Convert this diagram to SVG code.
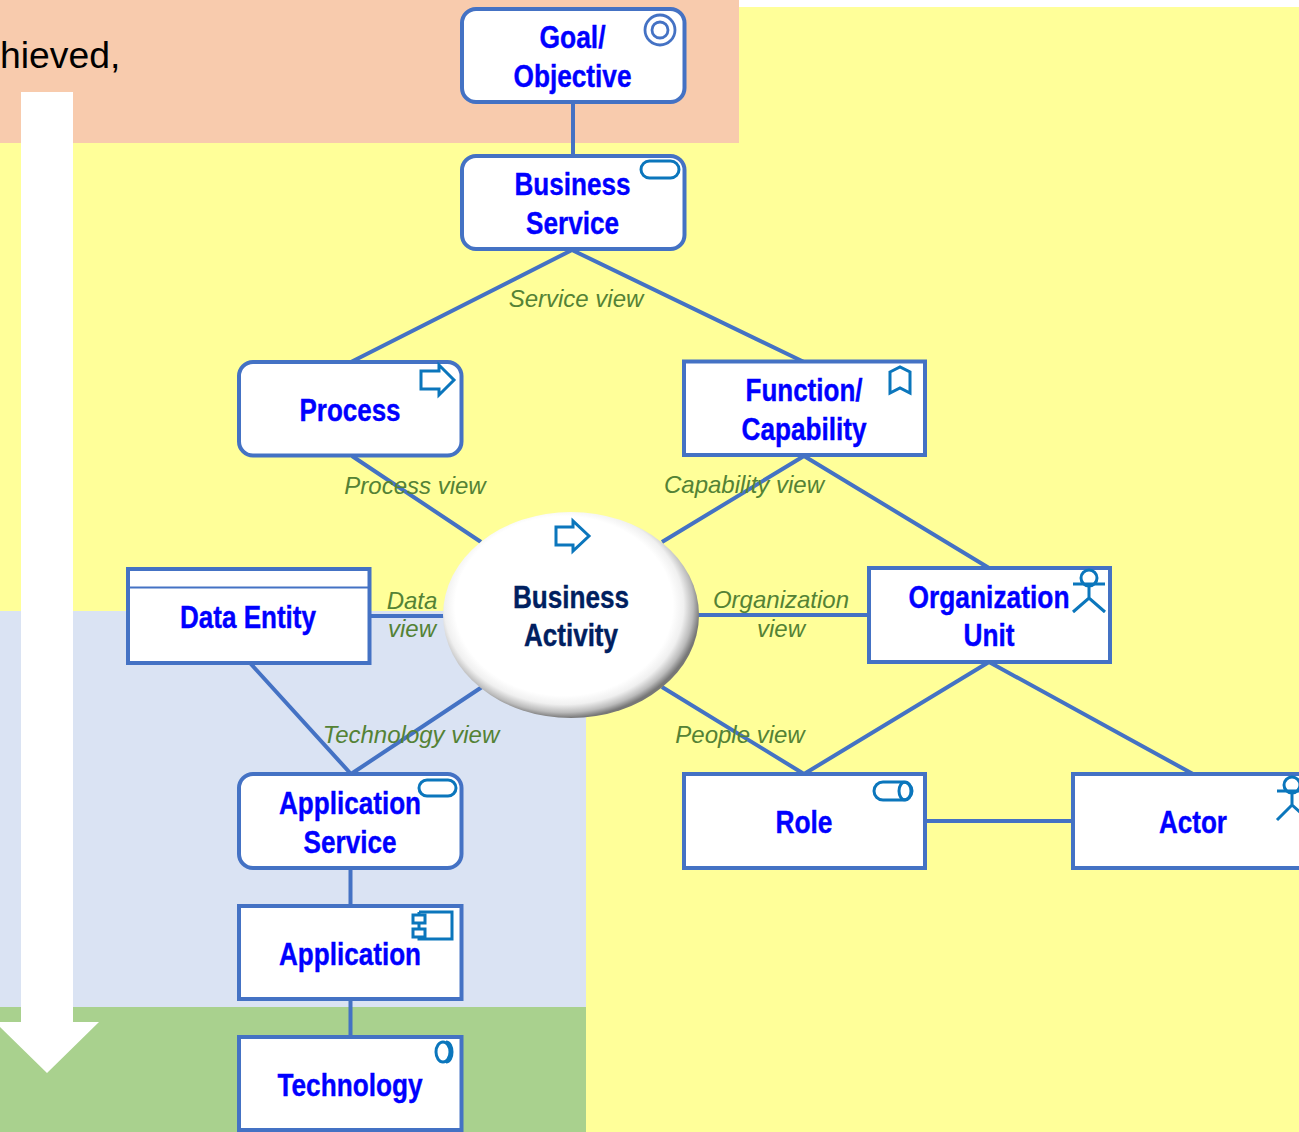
<svg xmlns="http://www.w3.org/2000/svg" width="1299" height="1132" viewBox="0 0 1299 1132">
<style>
.box{fill:#fff;stroke:#4472c4;stroke-width:4}
.c{fill:none;stroke:#4472c4;stroke-width:4}
.i{fill:none;stroke:#0b76bc;stroke-width:3}
.t{font-family:"Liberation Sans",Arial,sans-serif;font-weight:700;font-size:32px;fill:#0000ff;stroke:#0000ff;stroke-width:.4;text-anchor:middle}
.t.d{fill:#002060;stroke:#002060}
.l{font-family:"Liberation Sans",Arial,sans-serif;font-style:italic;font-size:24px;fill:#548235;text-anchor:middle}
</style>
<defs>
<radialGradient id="sph" gradientUnits="userSpaceOnUse" cx="0" cy="0" r="1" gradientTransform="translate(564 606) scale(136 112)">
<stop offset="0.8" stop-color="#fff"/><stop offset="0.88" stop-color="#f0f0f0"/><stop offset="0.95" stop-color="#bbb"/><stop offset="1" stop-color="#777"/>
</radialGradient>
</defs>
<g id="background">
<rect x="739" y="7" width="560" height="1125" fill="#ffff99"/>
<rect x="0" y="143" width="739" height="468" fill="#ffff99"/>
<rect x="586" y="611" width="153" height="521" fill="#ffff99"/>
<rect x="0" y="0" width="739" height="143" fill="#f8cbad"/>
<rect x="0" y="611" width="586" height="396" fill="#dae3f3"/>
<rect x="0" y="1007" width="586" height="125" fill="#a9d18e"/>
<text x="0" y="68" font-family="Liberation Sans,Arial,sans-serif" font-size="37.3" fill="#000">hieved,</text>
<polygon points="21,92 73,92 73,1022 99,1022 47,1073 -5,1022 21,1022" fill="#fff"/>
</g>
<g id="connectors">
<path class="c" d="M573 102V156M572 250L351 362M572 250L804 362M352 456L481 542M804 456L662 542M804 456L989 568M370 616H444M698 615H869M250 663L351 774M482 687L351 774M662 687L804 774M989 662L804 774M989 662L1193 774M926 821H1073M350.500 868V906M350.500 1000V1037"/>
</g>
<g id="goal"><rect class="box" x="462" y="9" width="222.500" height="93" rx="14"/>
<circle cx="660" cy="30" r="15" fill="none" stroke="#4472c4" stroke-width="2.800"/><circle cx="660" cy="30" r="8" fill="none" stroke="#4472c4" stroke-width="2.800"/>
<text class="t" x="572.500" y="48" textLength="66" lengthAdjust="spacingAndGlyphs">Goal/</text><text class="t" x="572.500" y="87" textLength="118" lengthAdjust="spacingAndGlyphs">Objective</text></g>
<g id="business-service"><rect class="box" x="462" y="156" width="222.500" height="93" rx="14"/>
<rect class="i" x="641" y="161" width="38" height="17" rx="8.500"/>
<text class="t" x="572.500" y="195" textLength="116" lengthAdjust="spacingAndGlyphs">Business</text><text class="t" x="572.500" y="234" textLength="93" lengthAdjust="spacingAndGlyphs">Service</text></g>
<g id="process"><rect class="box" x="239" y="362" width="222.500" height="93.500" rx="14"/>
<path class="i" d="M421 371H439V365L454 380L439 395V389H421Z"/>
<text class="t" x="350" y="421" textLength="101" lengthAdjust="spacingAndGlyphs">Process</text></g>
<g id="function"><rect class="box" x="684" y="361.500" width="241" height="93.500"/>
<path class="i" d="M890 372L900 367L910 372V393L900 388L890 393Z"/>
<text class="t" x="804" y="401" textLength="117" lengthAdjust="spacingAndGlyphs">Function/</text><text class="t" x="804" y="440" textLength="125" lengthAdjust="spacingAndGlyphs">Capability</text></g>
<g id="data-entity"><rect class="box" x="128" y="569" width="241.500" height="94"/>
<path d="M128 587.500H369" stroke="#4472c4" stroke-width="2" fill="none"/>
<text class="t" x="248" y="628" textLength="136" lengthAdjust="spacingAndGlyphs">Data Entity</text></g>
<g id="business-activity"><ellipse cx="571" cy="615" rx="128" ry="103" fill="url(#sph)"/>
<path class="i" d="M556 527H573V521L589 536L573 551V545H556Z"/>
<text class="t d" x="571" y="608" textLength="116" lengthAdjust="spacingAndGlyphs">Business</text><text class="t d" x="571" y="646" textLength="94" lengthAdjust="spacingAndGlyphs">Activity</text></g>
<g id="org-unit"><rect class="box" x="869" y="568" width="241" height="94"/>
<circle class="i" cx="1089" cy="578" r="8" fill="#ffff99"/><path class="i" d="M1073 584H1105M1089 586V598M1073 612L1089 598L1105 612"/>
<text class="t" x="989" y="608" textLength="161" lengthAdjust="spacingAndGlyphs">Organization</text><text class="t" x="989" y="646" textLength="51" lengthAdjust="spacingAndGlyphs">Unit</text></g>
<g id="app-service"><rect class="box" x="239" y="774" width="222.500" height="94" rx="14"/>
<rect class="i" x="419" y="780" width="37" height="16" rx="8"/>
<text class="t" x="350" y="814" textLength="142" lengthAdjust="spacingAndGlyphs">Application</text><text class="t" x="350" y="853" textLength="93" lengthAdjust="spacingAndGlyphs">Service</text></g>
<g id="role"><rect class="box" x="684" y="774" width="241" height="94"/>
<rect class="i" x="874" y="782" width="38" height="18" rx="9"/><ellipse class="i" cx="905" cy="791" rx="6" ry="9"/>
<text class="t" x="804" y="833" textLength="57" lengthAdjust="spacingAndGlyphs">Role</text></g>
<g id="actor"><rect class="box" x="1073" y="774" width="240" height="94"/>
<circle class="i" cx="1292" cy="785" r="8" fill="#ffff99"/><path class="i" d="M1277 791H1309M1292 793V805M1277 820L1292 805L1309 820"/>
<text class="t" x="1193" y="833" textLength="68" lengthAdjust="spacingAndGlyphs">Actor</text></g>
<g id="application"><rect class="box" x="239" y="906" width="222.500" height="93"/>
<path class="i" d="M419 912H452V939H419V937M419 929V923M419 915V912"/><path class="i" d="M413 915H425V923H413ZM413 929H425V937H413Z"/>
<text class="t" x="350" y="965" textLength="142" lengthAdjust="spacingAndGlyphs">Application</text></g>
<g id="technology"><rect class="box" x="239" y="1037" width="222.500" height="93"/>
<ellipse class="i" cx="443" cy="1052" rx="7" ry="10"/><path class="i" d="M446 1042C454 1042 454 1062 446 1062"/>
<text class="t" x="350" y="1096" textLength="145" lengthAdjust="spacingAndGlyphs">Technology</text></g>
<g id="labels">
<text class="l" x="576" y="307">Service view</text>
<text class="l" x="415" y="494">Process view</text>
<text class="l" x="744" y="493">Capability view</text>
<text class="l" x="412" y="609">Data</text><text class="l" x="412" y="637">view</text>
<text class="l" x="781" y="608">Organization</text><text class="l" x="781" y="637">view</text>
<text class="l" x="411" y="743">Technology view</text>
<text class="l" x="740" y="743">People view</text>
</g>
</svg>
